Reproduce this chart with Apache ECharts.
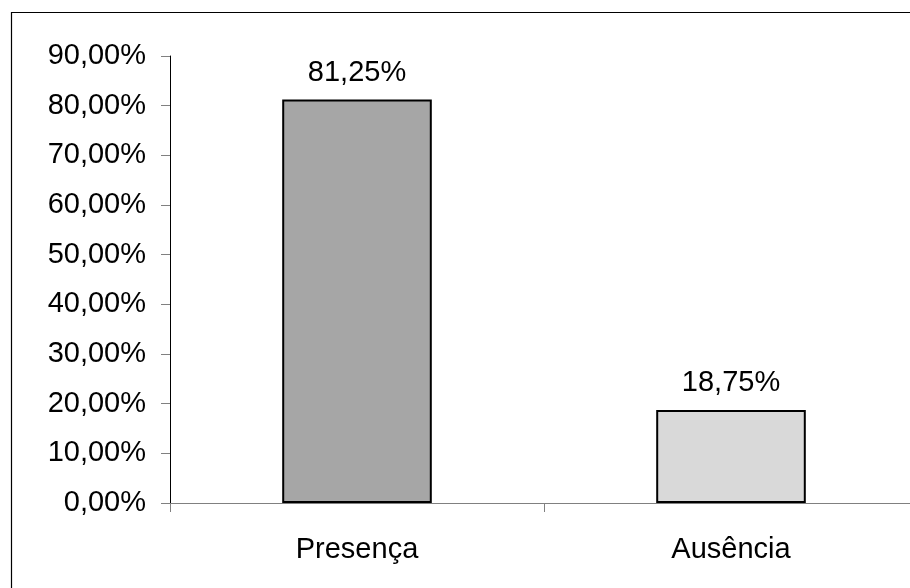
<!DOCTYPE html>
<html>
<head>
<meta charset="utf-8">
<script src="https://cdn.jsdelivr.net/npm/echarts@6/dist/echarts.min.js"></script>
<style>
  html, body { margin: 0; padding: 0; background: #fff; overflow: hidden; }
  /* the drawing runs a few pixels past the right edge of the window */
  #chart { width: 918px; height: 588px; }
</style>
</head>
<body>
<div id="chart"></div>
<script>
// Categories and their percentage values
const categories = ['Presença', 'Ausência'];
const values = [81.25, 18.75];
const barColors = ['#a6a6a6', '#d9d9d9'];

// Value axis range (percent)
const yMin = 0;
const yMax = 90;
const yStep = 10;

const fmt = v => v.toFixed(2).replace('.', ',') + '%';
const FONT = '"Liberation Sans", Arial, sans-serif';

const chart = echarts.init(document.getElementById('chart'), null, { renderer: 'canvas' });

chart.setOption({
  animation: false,
  backgroundColor: '#ffffff',
  graphic: [{
    type: 'rect',
    shape: { x: 11.5, y: 12.5, width: 1000, height: 1000 },
    style: { fill: 'none', stroke: '#000', lineWidth: 1.2 },
    z: 100
  }],
  grid: { left: 170, right: 0, top: 56, bottom: 85 },
  xAxis: {
    type: 'category',
    data: categories,
    axisLine: { lineStyle: { color: '#808080', width: 1 } },
    axisTick: { show: true, length: 9, alignWithLabel: false, lineStyle: { color: '#808080' } },
    axisLabel: { color: '#000', fontSize: 29, fontFamily: FONT, margin: 32 },
    splitLine: { show: false }
  },
  yAxis: {
    type: 'value',
    min: yMin,
    max: yMax,
    interval: yStep,
    axisLine: { show: true, lineStyle: { color: '#000', width: 1 } },
    axisTick: { show: true, length: 9, lineStyle: { color: '#808080' } },
    axisLabel: { color: '#000', fontSize: 29, fontFamily: FONT, margin: 24, formatter: fmt },
    splitLine: { show: false }
  },
  series: [{
    type: 'bar',
    barWidth: '40%',
    data: values.map((v, i) => ({
      value: v,
      itemStyle: { color: barColors[i], borderColor: '#000', borderWidth: 2 }
    })),
    label: {
      show: true,
      position: 'top',
      distance: 12,
      color: '#000',
      fontSize: 29,
      fontFamily: FONT,
      formatter: p => fmt(p.value)
    }
  }]
});
</script>
</body>
</html>
